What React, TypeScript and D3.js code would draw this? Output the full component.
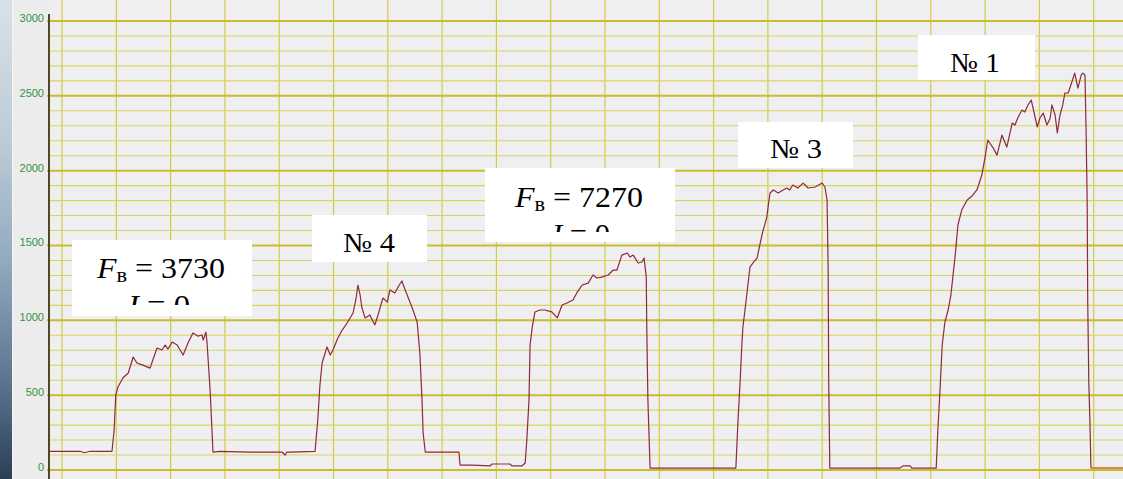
import React from "react";
import * as d3 from "d3";

const W = 1123;
const H = 479;

// ---- data ----
const yTickValues = [0, 500, 1000, 1500, 2000, 2500, 3000];
const yTickLabels = ["0", "500", "1000", "1500", "2000", "2500", "3000"];
const yMinorStep = 100;
const xGridTimes = [0, 10, 20, 30, 40, 50, 60, 70, 80, 90, 100, 110, 120, 130, 140, 150, 160, 170, 180, 190];

const traceTime = [
  -2.4, 3.3, 4.1, 5.2, 9.2, 9.6, 9.9, 10.3, 11.2, 12.2, 13.1, 13.8, 14.9, 16.2, 17.5, 18.4, 19.0, 19.5, 20.3, 21.2, 22.3, 23.2, 24.1, 25.0, 25.8, 26.0, 26.5, 26.7, 27.3, 27.8,
  29.1, 34.6, 40.5, 41.1, 41.4, 42.0, 46.6,
  47.1, 47.5, 47.9, 48.8, 49.4, 49.9, 50.8, 51.6, 52.5, 53.6, 54.1, 54.5, 54.9, 55.2, 55.8, 56.7, 57.6, 58.2, 59.1, 59.9, 60.4, 61.3, 62.1, 62.6, 63.2, 64.5, 65.4, 65.9, 66.3, 66.5, 66.9,
  73.1, 73.3, 75.5, 78.8, 79.2, 82.5, 82.9, 84.7, 85.3,
  85.6, 86.0, 86.2, 86.6, 87.1, 88.0, 88.9, 90.2, 91.2, 92.1, 93.0, 94.1, 94.8, 95.8, 96.9, 97.8, 98.5, 99.4, 100.6, 101.5, 102.2, 103.1, 104.1, 104.6, 105.2, 106.1, 106.8, 107.2, 107.6, 107.7, 107.9, 108.3,
  124.1, 124.5, 124.9, 125.2, 125.4, 126.0, 126.7, 127.4, 128.0, 128.9, 129.8, 130.2, 130.4, 131.0, 131.9, 132.8, 133.5, 134.0, 134.6, 135.5, 136.5, 137.4, 138.7, 140.0, 140.5, 140.9, 141.1, 141.2, 141.4,
  154.3, 154.9, 156.2, 156.5, 161.0,
  161.3, 161.7, 162.1, 162.6, 163.2, 163.7, 164.5, 165.0, 165.7, 166.7, 167.6, 168.5, 169.4, 170.0, 170.5, 171.5, 172.2, 173.1, 174.0, 175.0, 175.5, 176.1, 176.8, 177.3, 177.9, 178.5, 179.0, 179.6, 180.1, 180.7, 181.4, 182.0, 182.3, 182.9, 183.3, 183.8, 184.3, 184.7, 185.3, 185.8, 186.5, 187.1, 187.7, 188.0, 188.4, 188.6, 188.8, 188.9, 189.1, 189.3, 189.5,
];

const traceValue = [
  125, 125, 115, 125, 125, 267, 501, 555, 615, 648, 755, 715, 701, 681, 815, 802, 835, 808, 855, 835, 768, 848, 915, 895, 902, 868, 922, 855, 514, 120,
  125, 120, 120, 100, 120, 120, 125,
  334, 568, 715, 822, 768, 802, 882, 935, 982, 1049, 1136, 1236, 1169, 1089, 1016, 1036, 969, 1036, 1149, 1122, 1203, 1183, 1236, 1263, 1203, 1082, 989, 782, 468, 247, 120,
  120, 33, 33, 27, 40, 40, 27, 27, 47,
  200, 468, 835, 955, 1056, 1069, 1069, 1056, 1016, 1102, 1116, 1136, 1183, 1236, 1249, 1303, 1283, 1289, 1303, 1336, 1336, 1436, 1450, 1423, 1436, 1383, 1390, 1416, 1289, 935, 468, 13,
  13, 334, 601, 835, 955, 1136, 1356, 1390, 1416, 1570, 1690, 1804, 1851, 1871, 1851, 1871, 1884, 1871, 1904, 1884, 1917, 1884, 1891, 1917, 1891, 1804, 1336, 601, 13,
  13, 27, 27, 13, 13,
  267, 534, 835, 989, 1069, 1169, 1436, 1637, 1737, 1804, 1831, 1871, 1971, 2091, 2205, 2151, 2104, 2238, 2158, 2318, 2305, 2358, 2405, 2392, 2439, 2472, 2392, 2292, 2352, 2385, 2305, 2352, 2439, 2372, 2252, 2372, 2439, 2519, 2519, 2572, 2652, 2552, 2639, 2652, 2639, 2272, 1804, 1136, 588, 334, 13,
];

const tailTime = [189.5, 195.4];
const tailValue = [13, 13];

const forceValues = ["3730", "7270"];
const currentValues = ["0", "0"];
const sampleLabels = ["№ 4", "№ 3", "№ 1"];

// ---- layout (pixels) ----
const AXIS_X = 49;
const forceBoxes = [
  { x: 72, y: 240, w: 180, h: 76, tx: 97, tw: 128, base: 278, clip: 305, tx2: 128, tw2: 62 },
  { x: 485, y: 168, w: 190, h: 74, tx: 515, tw: 128, base: 207, clip: 232, tx2: 552, tw2: 58 },
];
const sampleBoxes = [
  { x: 312, y: 215, w: 115, h: 47, tx: 343, tw: 52, base: 252 },
  { x: 738, y: 122, w: 115, h: 46, tx: 770, tw: 52, base: 158 },
  { x: 918, y: 35, w: 117, h: 45, tx: 950, tw: 50, base: 72 },
];

export default function App() {
  const x = d3.scaleLinear().domain([-2.4, 195.4]).range([AXIS_X, W]);
  const y = d3.scaleLinear().domain([0, 3000]).range([470, 21]);

  const pts = traceTime.map((t, i) => [t, traceValue[i]] as [number, number]);
  const tail = tailTime.map((t, i) => [t, tailValue[i]] as [number, number]);
  const line = d3
    .line<[number, number]>()
    .x((d) => x(d[0]))
    .y((d) => y(d[1]));

  const minor = d3.range(0, 3001, yMinorStep).filter((v) => v % 500 !== 0);

  const serif = "'Liberation Serif', 'Times New Roman', serif";

  return (
    <div style={{ position: "absolute", left: 0, top: 0, width: W, height: H }}>
      <svg width={W} height={H} style={{ display: "block" }}>
        <defs>
          <linearGradient id="strip" x1="0" y1="0" x2="0" y2="1">
            <stop offset="0" stopColor="#d9e1e7" />
            <stop offset="0.3" stopColor="#bccbd7" />
            <stop offset="0.55" stopColor="#91a9be" />
            <stop offset="0.8" stopColor="#5a7490" />
            <stop offset="1" stopColor="#2c3e56" />
          </linearGradient>
          {forceBoxes.map((b, i) => (
            <clipPath id={`clip${i}`} key={i}>
              <rect x={b.x} y={b.y} width={b.w} height={b.clip - b.y} />
            </clipPath>
          ))}
        </defs>
        {/* left panel */}
        <rect x={0} y={0} width={AXIS_X} height={H} fill="#ececec" />
        <rect x={0} y={0} width={12} height={H} fill="url(#strip)" />
        <line x1={12.5} x2={12.5} y1={0} y2={H} stroke="#f7f7f7" strokeWidth={1} />
        {/* plot background */}
        <rect x={AXIS_X} y={0} width={W - AXIS_X} height={H} fill="#efeff1" />

        {/* vertical grid */}
        {xGridTimes.map((t) => (
          <line key={`v${t}`} x1={x(t)} x2={x(t)} y1={0} y2={H} stroke="#d2cb46" strokeWidth={1.2} />
        ))}
        {/* minor horizontal grid */}
        {minor.map((v) => (
          <line key={`m${v}`} x1={AXIS_X} x2={W} y1={y(v)} y2={y(v)} stroke="#d9d462" strokeWidth={1.1} />
        ))}
        {/* major horizontal grid */}
        {yTickValues.map((v) => (
          <line key={`M${v}`} x1={AXIS_X - 2} x2={W} y1={y(v)} y2={y(v)} stroke="#c9bd2c" strokeWidth={2} />
        ))}
        {/* axis line */}
        <line x1={AXIS_X} x2={AXIS_X} y1={14} y2={H} stroke="#4d4a22" strokeWidth={2} />

        {/* tick labels */}
        {yTickValues.map((v, i) => (
          <text
            key={`t${v}`}
            x={44}
            y={y(v) - 2}
            textAnchor="end"
            dominantBaseline="middle"
            fontFamily="'Liberation Sans', Arial, sans-serif"
            fontSize={11}
            fill="#34933a"
          >
            {yTickLabels[i]}
          </text>
        ))}

        {/* trace */}
        <path d={line(pts) || ""} fill="none" stroke="#8c2a3e" strokeWidth={1.2} strokeLinejoin="round" />
        <path d={line(tail) || ""} fill="none" stroke="#c8682a" strokeWidth={1.5} />

        {/* force labels */}
        {forceBoxes.map((b, i) => (
          <g key={`f${i}`}>
            <rect x={b.x} y={b.y} width={b.w} height={b.h} fill="#ffffff" />
            <text
              x={b.tx}
              y={b.base}
              fontFamily={serif}
              fontSize={30}
              fill="#000"
              textLength={b.tw}
              lengthAdjust="spacingAndGlyphs"
            >
              <tspan fontStyle="italic">F</tspan>
              <tspan fontSize={21} dy={4}>в</tspan>
              <tspan dy={-4}>{` = ${forceValues[i]}`}</tspan>
            </text>
            <g clipPath={`url(#clip${i})`}>
              <text
                x={b.tx2}
                y={b.base + 37}
                fontFamily={serif}
                fontSize={30}
                fill="#000"
                textLength={b.tw2}
                lengthAdjust="spacingAndGlyphs"
              >
                <tspan fontStyle="italic">I</tspan>
                <tspan>{` = ${currentValues[i]}`}</tspan>
              </text>
            </g>
          </g>
        ))}

        {/* sample labels */}
        {sampleBoxes.map((b, i) => (
          <g key={`s${i}`}>
            <rect x={b.x} y={b.y} width={b.w} height={b.h} fill="#ffffff" />
            <text
              x={b.tx}
              y={b.base}
              fontFamily={serif}
              fontSize={28}
              fill="#000"
              textLength={b.tw}
              lengthAdjust="spacingAndGlyphs"
            >
              {sampleLabels[i]}
            </text>
          </g>
        ))}
      </svg>
    </div>
  );
}
